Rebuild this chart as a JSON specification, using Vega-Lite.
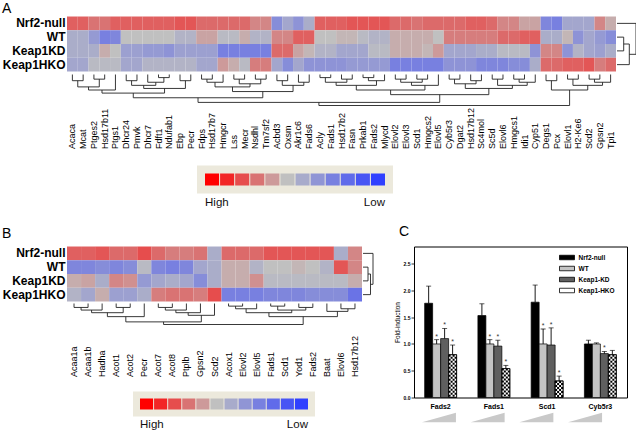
{
"$schema": "https://vega.github.io/schema/vega-lite/v6.json",
"padding": {"left": 2, "top": 1.5, "right": 0, "bottom": 0},
"background": "white",
"config": {
  "view": {"stroke": null},
  "font": "Liberation Sans",
  "axis": {"labelFont": "Liberation Sans", "titleFont": "Liberation Sans"},
  "legend": {"labelFont": "Liberation Sans"},
  "title": {"font": "Liberation Sans"}
},
"datasets": {
  "heatA": [
    {"g":"Acaca","Nrf2-null":0.5,"WT":-0.15,"Keap1KD":-0.15,"Keap1HKO":-0.2},
    {"g":"Mcat","Nrf2-null":0.5,"WT":-0.15,"Keap1KD":-0.15,"Keap1HKO":-0.2},
    {"g":"Ptges2","Nrf2-null":0.4,"WT":-0.3,"Keap1KD":-0.15,"Keap1HKO":-0.05},
    {"g":"Hsd17b11","Nrf2-null":0.4,"WT":-0.5,"Keap1KD":0.1,"Keap1HKO":-0.05},
    {"g":"Ptgs1","Nrf2-null":0.5,"WT":-0.45,"Keap1KD":0,"Keap1HKO":-0.05},
    {"g":"Dhcr24","Nrf2-null":0.5,"WT":0,"Keap1KD":-0.25,"Keap1HKO":-0.2},
    {"g":"Pmvk","Nrf2-null":0.5,"WT":0,"Keap1KD":-0.25,"Keap1HKO":-0.2},
    {"g":"Dhcr7","Nrf2-null":0.5,"WT":0,"Keap1KD":-0.3,"Keap1HKO":-0.1},
    {"g":"Fdft1","Nrf2-null":0.5,"WT":0,"Keap1KD":-0.3,"Keap1HKO":-0.1},
    {"g":"Ndufab1","Nrf2-null":0.5,"WT":0,"Keap1KD":-0.35,"Keap1HKO":-0.1},
    {"g":"Ebp","Nrf2-null":0.55,"WT":-0.1,"Keap1KD":-0.25,"Keap1HKO":-0.1},
    {"g":"Pecr","Nrf2-null":0.55,"WT":-0.1,"Keap1KD":-0.25,"Keap1HKO":-0.1},
    {"g":"Fdps","Nrf2-null":0.45,"WT":0.15,"Keap1KD":-0.25,"Keap1HKO":-0.2},
    {"g":"Hsd17b7","Nrf2-null":0.45,"WT":0.15,"Keap1KD":-0.25,"Keap1HKO":-0.2},
    {"g":"Hmgcr","Nrf2-null":0.45,"WT":-0.05,"Keap1KD":-0.5,"Keap1HKO":0.2},
    {"g":"Lss","Nrf2-null":0.45,"WT":-0.05,"Keap1KD":-0.5,"Keap1HKO":0.1},
    {"g":"Mecr","Nrf2-null":0.45,"WT":0.1,"Keap1KD":-0.5,"Keap1HKO":-0.05},
    {"g":"Nsdhl","Nrf2-null":0.3,"WT":-0.1,"Keap1KD":-0.5,"Keap1HKO":0.35},
    {"g":"Tm7sf2","Nrf2-null":0.3,"WT":-0.1,"Keap1KD":-0.5,"Keap1HKO":0.35},
    {"g":"Acbd3","Nrf2-null":-0.4,"WT":0.3,"Keap1KD":0.45,"Keap1HKO":-0.2},
    {"g":"Oxsm","Nrf2-null":-0.2,"WT":0.3,"Keap1KD":0.45,"Keap1HKO":-0.4},
    {"g":"Akr1c6","Nrf2-null":-0.35,"WT":0.5,"Keap1KD":0.15,"Keap1HKO":-0.2},
    {"g":"Fads6","Nrf2-null":-0.15,"WT":0.5,"Keap1KD":0.05,"Keap1HKO":-0.35},
    {"g":"Acly","Nrf2-null":0.5,"WT":0,"Keap1KD":-0.1,"Keap1HKO":-0.35},
    {"g":"Fads1","Nrf2-null":0.5,"WT":0,"Keap1KD":-0.1,"Keap1HKO":-0.35},
    {"g":"Hsd17b2","Nrf2-null":0.5,"WT":0.05,"Keap1KD":-0.2,"Keap1HKO":-0.35},
    {"g":"Fasn","Nrf2-null":0.55,"WT":0.05,"Keap1KD":-0.2,"Keap1HKO":-0.3},
    {"g":"Prkab1","Nrf2-null":0.55,"WT":-0.05,"Keap1KD":-0.2,"Keap1HKO":-0.3},
    {"g":"Fads2","Nrf2-null":0.55,"WT":-0.1,"Keap1KD":-0.05,"Keap1HKO":-0.3},
    {"g":"Mlycd","Nrf2-null":0.55,"WT":-0.1,"Keap1KD":-0.05,"Keap1HKO":-0.3},
    {"g":"Elovl2","Nrf2-null":0.45,"WT":0.1,"Keap1KD":0.1,"Keap1HKO":-0.5},
    {"g":"Elovl3","Nrf2-null":0.45,"WT":0.1,"Keap1KD":0.1,"Keap1HKO":-0.5},
    {"g":"Scd1","Nrf2-null":0.4,"WT":0.1,"Keap1KD":0.1,"Keap1HKO":-0.5},
    {"g":"Hmgcs2","Nrf2-null":0.45,"WT":0.1,"Keap1KD":0.05,"Keap1HKO":-0.5},
    {"g":"Elovl5","Nrf2-null":0.45,"WT":0,"Keap1KD":0.2,"Keap1HKO":-0.5},
    {"g":"Cyb5r3","Nrf2-null":0.45,"WT":0.35,"Keap1KD":-0.2,"Keap1HKO":-0.35},
    {"g":"Dgat2","Nrf2-null":0.45,"WT":0.35,"Keap1KD":-0.2,"Keap1HKO":-0.35},
    {"g":"Hsd17b12","Nrf2-null":0.5,"WT":0.35,"Keap1KD":-0.2,"Keap1HKO":-0.35},
    {"g":"Sc4mol","Nrf2-null":0.5,"WT":0.35,"Keap1KD":-0.15,"Keap1HKO":-0.45},
    {"g":"Sc5d","Nrf2-null":0.45,"WT":0.35,"Keap1KD":-0.15,"Keap1HKO":-0.45},
    {"g":"Elovl6","Nrf2-null":0.3,"WT":0.45,"Keap1KD":-0.05,"Keap1HKO":-0.45},
    {"g":"Hmgcs1","Nrf2-null":0.3,"WT":0.45,"Keap1KD":-0.05,"Keap1HKO":-0.4},
    {"g":"Idi1","Nrf2-null":0.15,"WT":0.5,"Keap1KD":-0.05,"Keap1HKO":-0.4},
    {"g":"Cyp51","Nrf2-null":0.15,"WT":0.5,"Keap1KD":-0.35,"Keap1HKO":-0.15},
    {"g":"Degs1","Nrf2-null":-0.45,"WT":-0.15,"Keap1KD":0.3,"Keap1HKO":0.45},
    {"g":"Pcx","Nrf2-null":-0.5,"WT":-0.15,"Keap1KD":0.3,"Keap1HKO":0.45},
    {"g":"Elovl1","Nrf2-null":-0.2,"WT":0.05,"Keap1KD":-0.35,"Keap1HKO":0.5},
    {"g":"H2-Ke6","Nrf2-null":-0.2,"WT":-0.35,"Keap1KD":-0.1,"Keap1HKO":0.5},
    {"g":"Scd2","Nrf2-null":-0.2,"WT":-0.2,"Keap1KD":-0.2,"Keap1HKO":0.55},
    {"g":"Gpsn2","Nrf2-null":0.3,"WT":-0.3,"Keap1KD":-0.25,"Keap1HKO":0.35},
    {"g":"Tpi1","Nrf2-null":0.1,"WT":-0.4,"Keap1KD":-0.15,"Keap1HKO":0.45}
  ],
  "heatB": [
    {"g":"Acaa1a","Nrf2-null":0.5,"WT":-0.45,"Keap1KD":0.1,"Keap1HKO":-0.1},
    {"g":"Acaa1b","Nrf2-null":0.5,"WT":-0.45,"Keap1KD":0.15,"Keap1HKO":-0.2},
    {"g":"Hadha","Nrf2-null":0.55,"WT":-0.4,"Keap1KD":-0.15,"Keap1HKO":0.1},
    {"g":"Acot1","Nrf2-null":0.45,"WT":-0.45,"Keap1KD":0.3,"Keap1HKO":-0.25},
    {"g":"Acot2","Nrf2-null":0.45,"WT":-0.4,"Keap1KD":0.25,"Keap1HKO":-0.25},
    {"g":"Pecr","Nrf2-null":0.6,"WT":-0.05,"Keap1KD":-0.3,"Keap1HKO":-0.15},
    {"g":"Acot7","Nrf2-null":0.45,"WT":-0.45,"Keap1KD":-0.2,"Keap1HKO":0.35},
    {"g":"Acot8","Nrf2-null":0.35,"WT":-0.5,"Keap1KD":-0.15,"Keap1HKO":0.4},
    {"g":"Ptplb","Nrf2-null":0.35,"WT":-0.45,"Keap1KD":-0.2,"Keap1HKO":0.4},
    {"g":"Gpsn2","Nrf2-null":0.4,"WT":-0.2,"Keap1KD":-0.4,"Keap1HKO":0.35},
    {"g":"Scd2","Nrf2-null":-0.15,"WT":-0.15,"Keap1KD":-0.15,"Keap1HKO":0.6},
    {"g":"Acox1","Nrf2-null":0.45,"WT":0.1,"Keap1KD":0.1,"Keap1HKO":-0.5},
    {"g":"Elovl2","Nrf2-null":0.45,"WT":0.1,"Keap1KD":0.1,"Keap1HKO":-0.5},
    {"g":"Elovl5","Nrf2-null":0.45,"WT":-0.1,"Keap1KD":0.25,"Keap1HKO":-0.5},
    {"g":"Fads1","Nrf2-null":0.55,"WT":0,"Keap1KD":-0.05,"Keap1HKO":-0.45},
    {"g":"Scd1","Nrf2-null":0.55,"WT":0,"Keap1KD":-0.05,"Keap1HKO":-0.45},
    {"g":"Yod1","Nrf2-null":0.55,"WT":0.05,"Keap1KD":-0.05,"Keap1HKO":-0.45},
    {"g":"Fads2","Nrf2-null":0.55,"WT":0,"Keap1KD":-0.05,"Keap1HKO":-0.4},
    {"g":"Baat","Nrf2-null":0.55,"WT":-0.1,"Keap1KD":-0.05,"Keap1HKO":-0.4},
    {"g":"Elovl6","Nrf2-null":-0.15,"WT":0.55,"Keap1KD":-0.05,"Keap1HKO":-0.4},
    {"g":"Hsd17b12","Nrf2-null":0.3,"WT":0.3,"Keap1KD":0.1,"Keap1HKO":-0.6}
  ],
  "dA": [
    {"a":0,"ha":0,"b":1,"hb":0,"h":2},{"a":2,"ha":0,"b":3,"hb":0,"h":1.5},{"a":0.5,"ha":2,"b":2.5,"hb":1.5,"h":4},{"a":1.5,"ha":4,"b":4,"hb":0,"h":5},
    {"a":5,"ha":0,"b":6,"hb":0,"h":2},{"a":8,"ha":0,"b":9,"hb":0,"h":1},{"a":7,"ha":0,"b":8.5,"hb":1,"h":2.5},{"a":5.5,"ha":2,"b":7.75,"hb":2.5,"h":3.5},
    {"a":10,"ha":0,"b":11,"hb":0,"h":2},{"a":6.625,"ha":3.5,"b":10.5,"hb":2,"h":4.5},{"a":2.75,"ha":5,"b":8.5625,"hb":4.5,"h":6},
    {"a":12,"ha":0,"b":13,"hb":0,"h":1.5},{"a":12.5,"ha":1.5,"b":14,"hb":0,"h":2.5},{"a":15,"ha":0,"b":16,"hb":0,"h":1.5},{"a":17,"ha":0,"b":18,"hb":0,"h":1.5},
    {"a":15.5,"ha":1.5,"b":17.5,"hb":1.5,"h":3},{"a":13.25,"ha":2.5,"b":16.5,"hb":3,"h":4},{"a":19,"ha":0,"b":20,"hb":0,"h":2},{"a":21,"ha":0,"b":22,"hb":0,"h":2.5},
    {"a":19.5,"ha":2,"b":21.5,"hb":2.5,"h":3.5},{"a":14.875,"ha":4,"b":20.5,"hb":3.5,"h":5.5},{"a":5.656,"ha":6,"b":17.6875,"hb":5.5,"h":7.5},
    {"a":23,"ha":0,"b":24,"hb":0,"h":1},{"a":25,"ha":0,"b":26,"hb":0,"h":1.5},{"a":23.5,"ha":1,"b":25.5,"hb":1.5,"h":2.5},{"a":27,"ha":0,"b":28,"hb":0,"h":1},
    {"a":27.5,"ha":1,"b":29,"hb":0,"h":2},{"a":24.5,"ha":2.5,"b":28.25,"hb":2,"h":3.5},{"a":30,"ha":0,"b":31,"hb":0,"h":1.5},{"a":32,"ha":0,"b":33,"hb":0,"h":1.5},
    {"a":30.5,"ha":1.5,"b":32.5,"hb":1.5,"h":2.5},{"a":31.5,"ha":2.5,"b":34,"hb":0,"h":3.5},{"a":26.375,"ha":3.5,"b":32.75,"hb":3.5,"h":5},
    {"a":35,"ha":0,"b":36,"hb":0,"h":1.5},{"a":37,"ha":0,"b":38,"hb":0,"h":2},{"a":35.5,"ha":1.5,"b":37.5,"hb":2,"h":3},{"a":39,"ha":0,"b":40,"hb":0,"h":1.5},
    {"a":41,"ha":0,"b":42,"hb":0,"h":1.5},{"a":41.5,"ha":1.5,"b":43,"hb":0,"h":2.5},{"a":39.5,"ha":1.5,"b":42.25,"hb":2.5,"h":3.5},{"a":36.5,"ha":3,"b":40.875,"hb":3.5,"h":4.5},
    {"a":29.5625,"ha":5,"b":38.6875,"hb":4.5,"h":6.5},{"a":11.672,"ha":7.5,"b":34.125,"hb":6.5,"h":9},
    {"a":44,"ha":0,"b":45,"hb":0,"h":2},{"a":46,"ha":0,"b":47,"hb":0,"h":1.5},{"a":48,"ha":0,"b":49,"hb":0,"h":1.5},{"a":48.5,"ha":1.5,"b":50,"hb":0,"h":2.5},
    {"a":46.5,"ha":1.5,"b":49.25,"hb":2.5,"h":3.5},{"a":44.5,"ha":2,"b":47.875,"hb":3.5,"h":5},{"a":22.9,"ha":9,"b":46.19,"hb":5,"h":10}
  ],
  "dB": [
    {"a":0,"ha":0,"b":1,"hb":0,"h":1.5},{"a":0.5,"ha":1.5,"b":2,"hb":0,"h":2.5},{"a":3,"ha":0,"b":4,"hb":0,"h":1.5},{"a":1.25,"ha":2.5,"b":3.5,"hb":1.5,"h":3.5},
    {"a":2.375,"ha":3.5,"b":5,"hb":0,"h":5},{"a":6,"ha":0,"b":7,"hb":0,"h":1.5},{"a":6.5,"ha":1.5,"b":8,"hb":0,"h":2.5},{"a":7.25,"ha":2.5,"b":9,"hb":0,"h":3.5},
    {"a":8.125,"ha":3.5,"b":10,"hb":0,"h":4.5},{"a":3.6875,"ha":5,"b":9.0625,"hb":4.5,"h":7},{"a":11,"ha":0,"b":12,"hb":0,"h":1},{"a":11.5,"ha":1,"b":13,"hb":0,"h":2},
    {"a":14,"ha":0,"b":15,"hb":0,"h":1},{"a":16,"ha":0,"b":17,"hb":0,"h":1.5},{"a":14.5,"ha":1,"b":16.5,"hb":1.5,"h":2.5},{"a":12.25,"ha":2,"b":15.5,"hb":2.5,"h":3.5},
    {"a":19,"ha":0,"b":20,"hb":0,"h":2},{"a":18,"ha":0,"b":19.5,"hb":2,"h":3},{"a":13.875,"ha":3.5,"b":18.75,"hb":3,"h":5},{"a":6.375,"ha":7,"b":16.3125,"hb":5,"h":8}
  ],
  "rdA": [{"a":1,"ha":0,"b":2,"hb":0,"h":6.7},{"a":1.5,"ha":6.7,"b":3,"hb":0,"h":12.3},{"a":0,"ha":0,"b":2.25,"hb":12.3,"h":19}],
  "rdB": [{"a":1,"ha":0,"b":2,"hb":0,"h":5},{"a":1.5,"ha":5,"b":3,"hb":0,"h":7.5},{"a":0,"ha":0,"b":2.25,"hb":7.5,"h":10}],
  "scale": [{"k":0,"v":1},{"k":1,"v":0.8},{"k":2,"v":0.6},{"k":3,"v":0.4},{"k":4,"v":0.2},{"k":5,"v":0},{"k":6,"v":-0.167},{"k":7,"v":-0.333},{"k":8,"v":-0.5},{"k":9,"v":-0.667},{"k":10,"v":-0.833},{"k":11,"v":-1}],
  "bars": [
    {"g":"Fads2","c":"Nrf2-null","v":1.76,"hi":2.08,"s":""},
    {"g":"Fads2","c":"WT","v":1.0,"hi":1.08,"s":"*"},
    {"g":"Fads2","c":"Keap1-KD","v":1.1,"hi":1.29,"s":"*"},
    {"g":"Fads2","c":"Keap1-HKO","v":0.8,"hi":0.98,"s":"*"},
    {"g":"Fads1","c":"Nrf2-null","v":1.53,"hi":1.75,"s":""},
    {"g":"Fads1","c":"WT","v":1.0,"hi":1.08,"s":"*"},
    {"g":"Fads1","c":"Keap1-KD","v":0.96,"hi":1.07,"s":"*"},
    {"g":"Fads1","c":"Keap1-HKO","v":0.54,"hi":0.6,"s":"*"},
    {"g":"Scd1","c":"Nrf2-null","v":1.78,"hi":2.1,"s":""},
    {"g":"Scd1","c":"WT","v":1.0,"hi":1.28,"s":"*"},
    {"g":"Scd1","c":"Keap1-KD","v":0.98,"hi":1.3,"s":"*"},
    {"g":"Scd1","c":"Keap1-HKO","v":0.31,"hi":0.4,"s":"*"},
    {"g":"Cyb5r3","c":"Nrf2-null","v":1.0,"hi":1.07,"s":""},
    {"g":"Cyb5r3","c":"WT","v":1.0,"hi":1.02,"s":""},
    {"g":"Cyb5r3","c":"Keap1-KD","v":0.82,"hi":0.86,"s":"*"},
    {"g":"Cyb5r3","c":"Keap1-HKO","v":0.8,"hi":0.88,"s":""}
  ],
  "grp": [{"g":"Fads2"},{"g":"Fads1"},{"g":"Scd1"},{"g":"Cyb5r3"}]
},
"spacing": 7,
"resolve": {"scale": {"fill": "independent"}, "legend": {"fill": "independent"}},
"vconcat": [
  {"spacing": 16, "vconcat": [
    {"spacing": 2, "vconcat": [
      {"spacing": 0, "hconcat": [
        {
          "width": 549, "height": 55,
          "title": {"text": "A", "anchor": "start", "frame": "group", "dx": -65, "offset": -10, "fontSize": 14, "fontWeight": "normal", "baseline": "alphabetic", "color": "black"},
          "data": {"name": "heatA"},
          "transform": [{"fold": ["Nrf2-null", "WT", "Keap1KD", "Keap1HKO"], "as": ["row", "v"]}],
          "mark": "rect",
          "encoding": {
            "x": {"field": "g", "type": "nominal", "sort": null, "axis": null, "scale": {"paddingInner": 0, "paddingOuter": 0}},
            "y": {"field": "row", "type": "nominal", "sort": ["Nrf2-null", "WT", "Keap1KD", "Keap1HKO"], "axis": {"title": null, "domain": false, "ticks": false, "tickSize": 0, "labelPadding": 2, "labelFontSize": 12, "labelFontWeight": "bold", "labelColor": "black"}},
            "color": {"field": "v", "type": "quantitative", "scale": {"domain": [-1, 0, 1], "range": ["#3040ff", "#c0c0c0", "#ff0000"], "interpolate": "rgb"}, "legend": null}
          }
        },
        {
          "width": 20, "height": 55,
          "data": {"name": "rdA"},
          "layer": [
            {"mark": {"type": "rule", "color": "#222", "strokeWidth": 0.9}, "encoding": {"y": {"field": "a", "type": "quantitative", "scale": {"domain": [-0.5, 3.5], "reverse": true, "nice": false, "zero": false}, "axis": null}, "x": {"field": "ha", "type": "quantitative", "scale": {"domain": [0, 20], "nice": false}, "axis": null}, "x2": {"field": "h"}}},
            {"mark": {"type": "rule", "color": "#222", "strokeWidth": 0.9}, "encoding": {"y": {"field": "b", "type": "quantitative", "axis": null}, "x": {"field": "hb", "type": "quantitative", "axis": null}, "x2": {"field": "h"}}},
            {"mark": {"type": "rule", "color": "#222", "strokeWidth": 0.9}, "encoding": {"y": {"field": "a", "type": "quantitative", "axis": null}, "y2": {"field": "b"}, "x": {"field": "h", "type": "quantitative", "axis": null}}}
          ]
        }
      ]},
      {
        "width": 549, "height": 31,
        "layer": [
          {"data": {"name": "heatA"}, "mark": {"type": "point", "opacity": 0},
           "encoding": {"x": {"field": "g", "type": "nominal", "sort": null, "scale": {"type": "band", "paddingInner": 0, "paddingOuter": 0},
             "axis": {"title": null, "domain": false, "ticks": false, "tickSize": 0, "labelAngle": 270, "labelAlign": "left", "labelBaseline": "middle", "labelPadding": 43, "labelFontSize": 9, "labelColor": "black", "labelOverlap": false, "labelBound": false}}}},
          {"data": {"name": "dA"}, "layer": [
            {"mark": {"type": "rule", "color": "#222", "strokeWidth": 0.9}, "encoding": {"x": {"field": "a", "type": "quantitative", "scale": {"domain": [-0.5, 50.5], "nice": false, "zero": false}, "axis": null}, "y": {"field": "ha", "type": "quantitative", "scale": {"domain": [0, 10], "reverse": true, "nice": false}, "axis": null}, "y2": {"field": "h"}}},
            {"mark": {"type": "rule", "color": "#222", "strokeWidth": 0.9}, "encoding": {"x": {"field": "b", "type": "quantitative", "axis": null}, "y": {"field": "hb", "type": "quantitative", "axis": null}, "y2": {"field": "h"}}},
            {"mark": {"type": "rule", "color": "#222", "strokeWidth": 0.9}, "encoding": {"x": {"field": "a", "type": "quantitative", "axis": null}, "x2": {"field": "b"}, "y": {"field": "h", "type": "quantitative", "axis": null}}}
          ]}
        ],
        "resolve": {"scale": {"x": "independent"}}
      }
    ]},
    {"spacing": 0, "hconcat": [
      {"width": 129, "height": 1, "data": {"values": []}, "mark": "point"},
      {
        "width": 180, "height": 12,
        "view": {"fill": "#ece9dc", "stroke": "#ece9dc", "strokeWidth": 16},
        "data": {"name": "scale"},
        "mark": "rect",
        "encoding": {
          "x": {"field": "k", "type": "ordinal", "scale": {"paddingInner": 0.067, "paddingOuter": 0},
            "axis": {"title": null, "domain": false, "ticks": false, "tickSize": 0, "values": [0, 11], "labelExpr": "datum.value == 0 ? 'High' : 'Low'", "labelAngle": 0,
              "labelAlign": {"condition": {"test": "datum.value == 0", "value": "left"}, "value": "right"},
              "labelOffset": {"condition": {"test": "datum.value == 0", "value": -7}, "value": 7},
              "labelBaseline": "top", "labelPadding": 11, "labelFontSize": 11.5, "labelColor": "#111"}},
          "color": {"field": "v", "type": "quantitative", "scale": {"domain": [-1, 0, 1], "range": ["#3040ff", "#c0c0c0", "#ff0000"], "interpolate": "rgb"}, "legend": null}
        }
      }
    ]}
  ]},
  {"spacing": 19, "resolve": {"scale": {"fill": "independent"}, "legend": {"fill": "independent"}}, "hconcat": [
    {"spacing": 15, "vconcat": [
      {"spacing": 1, "vconcat": [
        {"spacing": 0, "hconcat": [
          {
            "width": 295, "height": 55,
            "title": {"text": "B", "anchor": "start", "frame": "group", "dx": -65, "offset": -5, "fontSize": 14, "fontWeight": "normal", "baseline": "alphabetic", "color": "black"},
            "data": {"name": "heatB"},
            "transform": [{"fold": ["Nrf2-null", "WT", "Keap1KD", "Keap1HKO"], "as": ["row", "v"]}],
            "mark": "rect",
            "encoding": {
              "x": {"field": "g", "type": "nominal", "sort": null, "axis": null, "scale": {"paddingInner": 0, "paddingOuter": 0}},
              "y": {"field": "row", "type": "nominal", "sort": ["Nrf2-null", "WT", "Keap1KD", "Keap1HKO"], "axis": {"title": null, "domain": false, "ticks": false, "tickSize": 0, "labelPadding": 2, "labelFontSize": 12, "labelFontWeight": "bold", "labelColor": "black"}},
              "color": {"field": "v", "type": "quantitative", "scale": {"domain": [-1, 0, 1], "range": ["#3040ff", "#c0c0c0", "#ff0000"], "interpolate": "rgb"}, "legend": null}
            }
          },
          {
            "width": 10, "height": 55,
            "data": {"name": "rdB"},
            "layer": [
              {"mark": {"type": "rule", "color": "#222", "strokeWidth": 0.9}, "encoding": {"y": {"field": "a", "type": "quantitative", "scale": {"domain": [-0.5, 3.5], "reverse": true, "nice": false, "zero": false}, "axis": null}, "x": {"field": "ha", "type": "quantitative", "scale": {"domain": [0, 10], "nice": false}, "axis": null}, "x2": {"field": "h"}}},
              {"mark": {"type": "rule", "color": "#222", "strokeWidth": 0.9}, "encoding": {"y": {"field": "b", "type": "quantitative", "axis": null}, "x": {"field": "hb", "type": "quantitative", "axis": null}, "x2": {"field": "h"}}},
              {"mark": {"type": "rule", "color": "#222", "strokeWidth": 0.9}, "encoding": {"y": {"field": "a", "type": "quantitative", "axis": null}, "y2": {"field": "b"}, "x": {"field": "h", "type": "quantitative", "axis": null}}}
            ]
          }
        ]},
        {
          "width": 295, "height": 21,
          "layer": [
            {"data": {"name": "heatB"}, "mark": {"type": "point", "opacity": 0},
             "encoding": {"x": {"field": "g", "type": "nominal", "sort": null, "scale": {"type": "band", "paddingInner": 0, "paddingOuter": 0},
               "axis": {"title": null, "domain": false, "ticks": false, "tickSize": 0, "labelAngle": 270, "labelAlign": "left", "labelBaseline": "middle", "labelPadding": 52, "labelFontSize": 9, "labelColor": "black", "labelOverlap": false, "labelBound": false}}}},
            {"data": {"name": "dB"}, "layer": [
              {"mark": {"type": "rule", "color": "#222", "strokeWidth": 0.9}, "encoding": {"x": {"field": "a", "type": "quantitative", "scale": {"domain": [-0.5, 20.5], "nice": false, "zero": false}, "axis": null}, "y": {"field": "ha", "type": "quantitative", "scale": {"domain": [0, 8], "reverse": true, "nice": false}, "axis": null}, "y2": {"field": "h"}}},
              {"mark": {"type": "rule", "color": "#222", "strokeWidth": 0.9}, "encoding": {"x": {"field": "b", "type": "quantitative", "axis": null}, "y": {"field": "hb", "type": "quantitative", "axis": null}, "y2": {"field": "h"}}},
              {"mark": {"type": "rule", "color": "#222", "strokeWidth": 0.9}, "encoding": {"x": {"field": "a", "type": "quantitative", "axis": null}, "x2": {"field": "b"}, "y": {"field": "h", "type": "quantitative", "axis": null}}}
            ]}
          ],
          "resolve": {"scale": {"x": "independent"}}
        }
      ]},
      {"spacing": 0, "hconcat": [
        {"width": 65, "height": 1, "data": {"values": []}, "mark": "point"},
        {
          "width": 168, "height": 11,
          "view": {"fill": "#ece9dc", "stroke": "#ece9dc", "strokeWidth": 14},
          "data": {"name": "scale"},
          "mark": "rect",
          "encoding": {
            "x": {"field": "k", "type": "ordinal", "scale": {"paddingInner": 0.07, "paddingOuter": 0},
              "axis": {"title": null, "domain": false, "ticks": false, "tickSize": 0, "values": [0, 11], "labelExpr": "datum.value == 0 ? 'High' : 'Low'", "labelAngle": 0,
                "labelAlign": {"condition": {"test": "datum.value == 0", "value": "left"}, "value": "right"},
                "labelOffset": {"condition": {"test": "datum.value == 0", "value": -6.5}, "value": 6.5},
                "labelBaseline": "top", "labelPadding": 9, "labelFontSize": 11.5, "labelColor": "#111"}},
            "color": {"field": "v", "type": "quantitative", "scale": {"domain": [-1, 0, 1], "range": ["#3040ff", "#c0c0c0", "#ff0000"], "interpolate": "rgb"}, "legend": null}
          }
        }
      ]}
    ]},
    {"spacing": 2, "resolve": {"scale": {"fill": "independent"}, "legend": {"fill": "independent"}}, "vconcat": [
      {
        "width": 213, "height": 151,
        "view": {"stroke": "black", "strokeWidth": 1},
        "title": {"text": "C", "anchor": "start", "frame": "group", "dx": -15, "offset": -3, "fontSize": 14, "fontWeight": "normal", "baseline": "alphabetic", "color": "black"},
        "data": {"name": "bars"},
        "layer": [
          {"mark": {"type": "bar", "stroke": "black", "strokeWidth": 0.7},
           "encoding": {
             "x": {"field": "g", "type": "nominal", "sort": ["Fads2", "Fads1", "Scd1", "Cyb5r3"], "scale": {"paddingInner": 0.4, "paddingOuter": 0.2}, "axis": {"title": null, "domain": false, "ticks": false, "tickSize": 0, "labelAngle": 0, "labelFontSize": 7, "labelFontWeight": "bold", "labelPadding": 5, "labelColor": "black"}},
             "xOffset": {"field": "c", "type": "nominal", "sort": ["Nrf2-null", "WT", "Keap1-KD", "Keap1-HKO"], "scale": {"paddingInner": 0, "paddingOuter": 0}},
             "y": {"field": "v", "type": "quantitative", "scale": {"domain": [0, 2.82], "nice": false},
               "axis": {"title": "Fold-induction", "values": [0, 0.5, 1, 1.5, 2, 2.5], "format": ".1f", "domain": false, "grid": false, "tickSize": 3, "tickColor": "black", "tickWidth": 0.8, "labelFontSize": 5, "labelFontWeight": "bold", "labelPadding": 1, "labelColor": "black", "titleFontSize": 6.5, "titleFontWeight": "normal", "titleColor": "black", "titlePadding": 3}},
             "fill": {"field": "c", "type": "nominal", "sort": ["Nrf2-null", "WT", "Keap1-KD", "Keap1-HKO"], "scale": {"range": ["#000000", "#c4c4c4", "#5f5f5f", "#ffffff"]},
               "legend": {"orient": "none", "legendX": 149.5, "legendY": 7.5, "title": null, "symbolType": "M-2.5,-0.75H2.5V0.75H-2.5Z", "symbolSize": 36, "symbolStrokeColor": "black", "symbolStrokeWidth": 0.8, "labelFontSize": 6.5, "labelFontWeight": "bold", "labelOffset": 8, "rowPadding": 2, "labelColor": "black"}}
           }},
          {"transform": [{"filter": "datum.c == 'Keap1-HKO'"}],
           "mark": {"type": "rule", "color": "black", "strokeWidth": 2, "strokeDash": [2, 2], "strokeDashOffset": 0},
           "encoding": {"x": {"field": "g", "type": "nominal", "sort": ["Fads2", "Fads1", "Scd1", "Cyb5r3"], "bandPosition": 0.78125, "axis": {"title": null, "domain": false, "ticks": false, "tickSize": 0, "labelAngle": 0, "labelFontSize": 7, "labelFontWeight": "bold", "labelPadding": 5, "labelColor": "black"}},
             "y": {"field": "v", "type": "quantitative", "axis": {"title": "Fold-induction", "values": [0, 0.5, 1, 1.5, 2, 2.5], "format": ".1f", "domain": false, "grid": false, "tickSize": 3, "tickColor": "black", "tickWidth": 0.8, "labelFontSize": 5, "labelFontWeight": "bold", "labelPadding": 1, "labelColor": "black", "titleFontSize": 6.5, "titleFontWeight": "normal", "titleColor": "black", "titlePadding": 3}},
             "y2": {"datum": 0}}},
          {"transform": [{"filter": "datum.c == 'Keap1-HKO'"}],
           "mark": {"type": "rule", "color": "black", "strokeWidth": 2, "strokeDash": [2, 2], "strokeDashOffset": 2},
           "encoding": {"x": {"field": "g", "type": "nominal", "sort": ["Fads2", "Fads1", "Scd1", "Cyb5r3"], "bandPosition": 0.84375, "axis": {"title": null, "domain": false, "ticks": false, "tickSize": 0, "labelAngle": 0, "labelFontSize": 7, "labelFontWeight": "bold", "labelPadding": 5, "labelColor": "black"}},
             "y": {"field": "v", "type": "quantitative", "axis": {"title": "Fold-induction", "values": [0, 0.5, 1, 1.5, 2, 2.5], "format": ".1f", "domain": false, "grid": false, "tickSize": 3, "tickColor": "black", "tickWidth": 0.8, "labelFontSize": 5, "labelFontWeight": "bold", "labelPadding": 1, "labelColor": "black", "titleFontSize": 6.5, "titleFontWeight": "normal", "titleColor": "black", "titlePadding": 3}},
             "y2": {"datum": 0}}},
          {"transform": [{"filter": "datum.c == 'Keap1-HKO'"}],
           "mark": {"type": "rule", "color": "black", "strokeWidth": 2, "strokeDash": [2, 2], "strokeDashOffset": 0},
           "encoding": {"x": {"field": "g", "type": "nominal", "sort": ["Fads2", "Fads1", "Scd1", "Cyb5r3"], "bandPosition": 0.90625, "axis": {"title": null, "domain": false, "ticks": false, "tickSize": 0, "labelAngle": 0, "labelFontSize": 7, "labelFontWeight": "bold", "labelPadding": 5, "labelColor": "black"}},
             "y": {"field": "v", "type": "quantitative", "axis": {"title": "Fold-induction", "values": [0, 0.5, 1, 1.5, 2, 2.5], "format": ".1f", "domain": false, "grid": false, "tickSize": 3, "tickColor": "black", "tickWidth": 0.8, "labelFontSize": 5, "labelFontWeight": "bold", "labelPadding": 1, "labelColor": "black", "titleFontSize": 6.5, "titleFontWeight": "normal", "titleColor": "black", "titlePadding": 3}},
             "y2": {"datum": 0}}},
          {"transform": [{"filter": "datum.c == 'Keap1-HKO'"}],
           "mark": {"type": "rule", "color": "black", "strokeWidth": 2, "strokeDash": [2, 2], "strokeDashOffset": 2},
           "encoding": {"x": {"field": "g", "type": "nominal", "sort": ["Fads2", "Fads1", "Scd1", "Cyb5r3"], "bandPosition": 0.96875, "axis": {"title": null, "domain": false, "ticks": false, "tickSize": 0, "labelAngle": 0, "labelFontSize": 7, "labelFontWeight": "bold", "labelPadding": 5, "labelColor": "black"}},
             "y": {"field": "v", "type": "quantitative", "axis": {"title": "Fold-induction", "values": [0, 0.5, 1, 1.5, 2, 2.5], "format": ".1f", "domain": false, "grid": false, "tickSize": 3, "tickColor": "black", "tickWidth": 0.8, "labelFontSize": 5, "labelFontWeight": "bold", "labelPadding": 1, "labelColor": "black", "titleFontSize": 6.5, "titleFontWeight": "normal", "titleColor": "black", "titlePadding": 3}},
             "y2": {"datum": 0}}},
          {"transform": [{"filter": "datum.c == 'Keap1-HKO'"}],
           "mark": {"type": "bar", "fillOpacity": 0, "stroke": "black", "strokeWidth": 0.7},
           "encoding": {
             "x": {"field": "g", "type": "nominal", "sort": ["Fads2", "Fads1", "Scd1", "Cyb5r3"], "axis": {"title": null, "domain": false, "ticks": false, "tickSize": 0, "labelAngle": 0, "labelFontSize": 7, "labelFontWeight": "bold", "labelPadding": 5, "labelColor": "black"}},
             "xOffset": {"field": "c", "type": "nominal", "sort": ["Nrf2-null", "WT", "Keap1-KD", "Keap1-HKO"]},
             "y": {"field": "v", "type": "quantitative", "axis": {"title": "Fold-induction", "values": [0, 0.5, 1, 1.5, 2, 2.5], "format": ".1f", "domain": false, "grid": false, "tickSize": 3, "tickColor": "black", "tickWidth": 0.8, "labelFontSize": 5, "labelFontWeight": "bold", "labelPadding": 1, "labelColor": "black", "titleFontSize": 6.5, "titleFontWeight": "normal", "titleColor": "black", "titlePadding": 3}}}},
          {"mark": {"type": "rule", "color": "black", "strokeWidth": 0.9},
           "encoding": {
             "x": {"field": "g", "type": "nominal", "sort": ["Fads2", "Fads1", "Scd1", "Cyb5r3"], "axis": {"title": null, "domain": false, "ticks": false, "tickSize": 0, "labelAngle": 0, "labelFontSize": 7, "labelFontWeight": "bold", "labelPadding": 5, "labelColor": "black"}},
             "xOffset": {"field": "c", "type": "nominal", "sort": ["Nrf2-null", "WT", "Keap1-KD", "Keap1-HKO"]},
             "y": {"field": "v", "type": "quantitative", "axis": {"title": "Fold-induction", "values": [0, 0.5, 1, 1.5, 2, 2.5], "format": ".1f", "domain": false, "grid": false, "tickSize": 3, "tickColor": "black", "tickWidth": 0.8, "labelFontSize": 5, "labelFontWeight": "bold", "labelPadding": 1, "labelColor": "black", "titleFontSize": 6.5, "titleFontWeight": "normal", "titleColor": "black", "titlePadding": 3}},
             "y2": {"field": "hi"}}},
          {"mark": {"type": "tick", "color": "black", "thickness": 0.9, "size": 5, "orient": "horizontal"},
           "encoding": {
             "x": {"field": "g", "type": "nominal", "sort": ["Fads2", "Fads1", "Scd1", "Cyb5r3"], "axis": {"title": null, "domain": false, "ticks": false, "tickSize": 0, "labelAngle": 0, "labelFontSize": 7, "labelFontWeight": "bold", "labelPadding": 5, "labelColor": "black"}},
             "xOffset": {"field": "c", "type": "nominal", "sort": ["Nrf2-null", "WT", "Keap1-KD", "Keap1-HKO"]},
             "y": {"field": "hi", "type": "quantitative", "axis": {"title": "Fold-induction", "values": [0, 0.5, 1, 1.5, 2, 2.5], "format": ".1f", "domain": false, "grid": false, "tickSize": 3, "tickColor": "black", "tickWidth": 0.8, "labelFontSize": 5, "labelFontWeight": "bold", "labelPadding": 1, "labelColor": "black", "titleFontSize": 6.5, "titleFontWeight": "normal", "titleColor": "black", "titlePadding": 3}}}},
          {"mark": {"type": "text", "fontSize": 7, "dy": -3, "color": "#333"},
           "encoding": {
             "x": {"field": "g", "type": "nominal", "sort": ["Fads2", "Fads1", "Scd1", "Cyb5r3"], "axis": {"title": null, "domain": false, "ticks": false, "tickSize": 0, "labelAngle": 0, "labelFontSize": 7, "labelFontWeight": "bold", "labelPadding": 5, "labelColor": "black"}},
             "xOffset": {"field": "c", "type": "nominal", "sort": ["Nrf2-null", "WT", "Keap1-KD", "Keap1-HKO"]},
             "y": {"field": "hi", "type": "quantitative", "axis": {"title": "Fold-induction", "values": [0, 0.5, 1, 1.5, 2, 2.5], "format": ".1f", "domain": false, "grid": false, "tickSize": 3, "tickColor": "black", "tickWidth": 0.8, "labelFontSize": 5, "labelFontWeight": "bold", "labelPadding": 1, "labelColor": "black", "titleFontSize": 6.5, "titleFontWeight": "normal", "titleColor": "black", "titlePadding": 3}},
             "text": {"field": "s"}}}
        ]
      },
      {
        "width": 196, "height": 10,
        "data": {"name": "grp"},
        "mark": {"type": "point", "shape": "M-1,0.28L1,0.28L1,-0.28Z", "size": 1156, "filled": true, "color": "#c9c9c9", "opacity": 1, "strokeWidth": 0},
        "encoding": {"x": {"field": "g", "type": "nominal", "sort": ["Fads2", "Fads1", "Scd1", "Cyb5r3"], "scale": {"type": "band", "paddingInner": 0.3, "paddingOuter": 0.1625}, "axis": null}}
      }
    ]}
  ]}
]
}
